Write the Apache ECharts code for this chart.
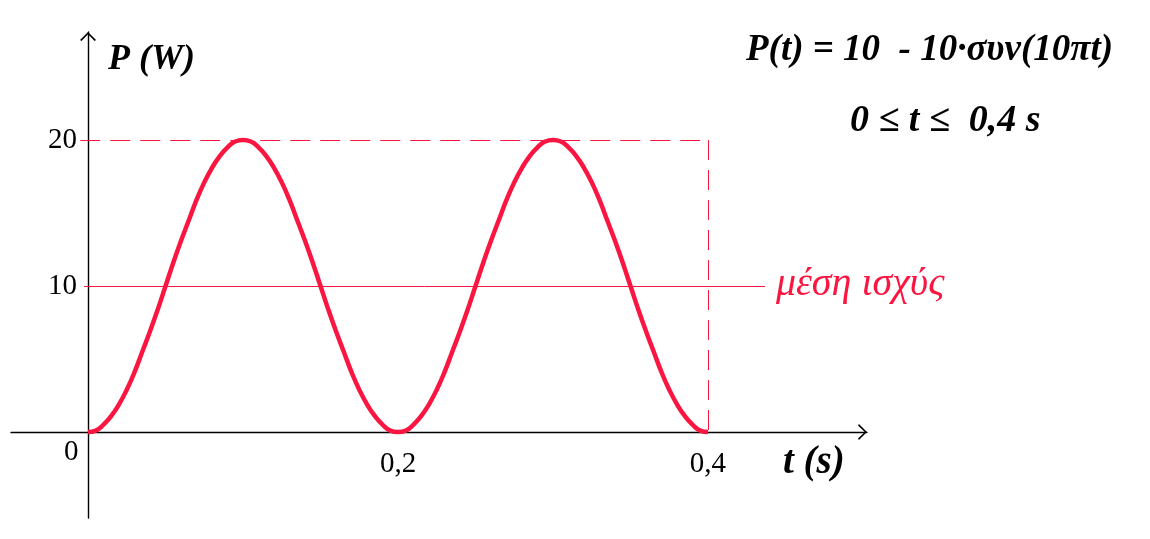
<!DOCTYPE html>
<html>
<head>
<meta charset="utf-8">
<script src="https://cdn.jsdelivr.net/npm/echarts@6/dist/echarts.min.js"></script>
<style>html,body{margin:0;padding:0;background:#fff}#c{width:1150px;height:539px}</style>
</head>
<body>
<div id="c"></div>
<script>
// time samples (s)
const times = [0,0.005,0.01,0.015,0.02,0.025,0.03,0.035,0.04,0.045,0.05,0.055,0.06,0.065,0.07,0.075,0.08,0.085,0.09,0.095,
  0.10,0.105,0.11,0.115,0.12,0.125,0.13,0.135,0.14,0.145,0.15,0.155,0.16,0.165,0.17,0.175,0.18,0.185,0.19,0.195,
  0.20,0.205,0.21,0.215,0.22,0.225,0.23,0.235,0.24,0.245,0.25,0.255,0.26,0.265,0.27,0.275,0.28,0.285,0.29,0.295,
  0.30,0.305,0.31,0.315,0.32,0.325,0.33,0.335,0.34,0.345,0.35,0.355,0.36,0.365,0.37,0.375,0.38,0.385,0.39,0.395,0.40];
// power values (W)
const power = [0,0.1,0.5,1.1,1.9,2.9,4.1,5.5,6.9,8.4,10,11.6,13.1,14.5,15.9,17.1,18.1,18.9,19.5,19.9,
  20,19.9,19.5,18.9,18.1,17.1,15.9,14.5,13.1,11.6,10,8.4,6.9,5.5,4.1,2.9,1.9,1.1,0.5,0.1,
  0,0.1,0.5,1.1,1.9,2.9,4.1,5.5,6.9,8.4,10,11.6,13.1,14.5,15.9,17.1,18.1,18.9,19.5,19.9,
  20,19.9,19.5,18.9,18.1,17.1,15.9,14.5,13.1,11.6,10,8.4,6.9,5.5,4.1,2.9,1.9,1.1,0.5,0.1,0];
const xTickValues = [0.2, 0.4];
const yTickValues = [10, 20];
const avgPower = 10;
const maxPower = 20;
const tEnd = 0.4;

const RED = '#fb1541';
const SERIF = '"Liberation Serif", "DejaVu Serif", serif';
const chevron = 'path://M0,8 L8,0 L16,8 L14.6,8.9 L8,2.2 L1.4,8.9 Z';
const dashStyle = {color: RED, width: 1, type: [20, 10], opacity: 1};

const chart = echarts.init(document.getElementById('c'), null, {renderer: 'canvas'});
chart.setOption({
  animation: false,
  backgroundColor: '#fff',
  grid: {left: 11, right: 283, top: 32, bottom: 21, containLabel: false, outerBoundsMode: 'none'},
  xAxis: {
    type: 'value', min: -0.0497, max: 0.5026,
    axisLine: {show: true, onZero: true, lineStyle: {color: '#000', width: 1.4},
      symbol: ['none', chevron], symbolSize: [16, 9], symbolOffset: [0, -4.5]},
    axisTick: {show: false},
    splitLine: {show: false},
    axisLabel: {customValues: xTickValues, margin: -68, fontFamily: SERIF, fontSize: 29, color: '#000',
      formatter: v => String(v).replace('.', ',')}
  },
  yAxis: {
    type: 'value', min: -5.89, max: 27.40,
    axisLine: {show: true, onZero: true, lineStyle: {color: '#000', width: 1.4},
      symbol: ['none', chevron], symbolSize: [16, 9], symbolOffset: [0, -4.5]},
    axisTick: {show: false},
    splitLine: {show: false},
    axisLabel: {customValues: yTickValues, margin: -66, fontFamily: SERIF, fontSize: 29, color: '#000'}
  },
  series: [{
    type: 'line',
    data: times.map((t, i) => [t, power[i]]),
    smooth: true,
    showSymbol: false,
    lineStyle: {color: RED, width: 4.5},
    z: 5,
    markLine: {
      silent: true, symbol: 'none', label: {show: false},
      lineStyle: dashStyle,
      emphasis: {disabled: true},
      data: [
        [{coord: [-0.005, maxPower], lineStyle: dashStyle}, {coord: [tEnd, maxPower]}],
        [{coord: [tEnd, maxPower], lineStyle: dashStyle}, {coord: [tEnd, 0]}],
        [{coord: [-0.0026, avgPower], lineStyle: {color: RED, width: 1, type: 'solid', opacity: 1}}, {coord: [0.4368, avgPower]}]
      ]
    }
  }],
  graphic: [
    {type: 'text', left: 108, top: 42, style: {text: 'P (W)', font: 'italic bold 36px ' + SERIF, fill: '#000'}},
    {type: 'text', left: 746, top: 32, style: {text: 'P(t) = 10  - 10·συν(10πt)', font: 'italic bold 37px ' + SERIF, fill: '#000'}},
    {type: 'text', left: 850, top: 102, style: {text: '0 ≤ t ≤  0,4 s', font: 'italic bold 38px ' + SERIF, fill: '#000'}},
    {type: 'text', left: 776, top: 264, style: {text: 'μέση ισχύς', font: 'italic 40px ' + SERIF, fill: RED}},
    {type: 'text', left: 783, top: 443, style: {text: 't (s)', font: 'italic bold 39px ' + SERIF, fill: '#000'}},
    {type: 'text', left: 64, top: 438, style: {text: '0', font: '29px ' + SERIF, fill: '#000'}}
  ]
});
</script>
</body>
</html>
